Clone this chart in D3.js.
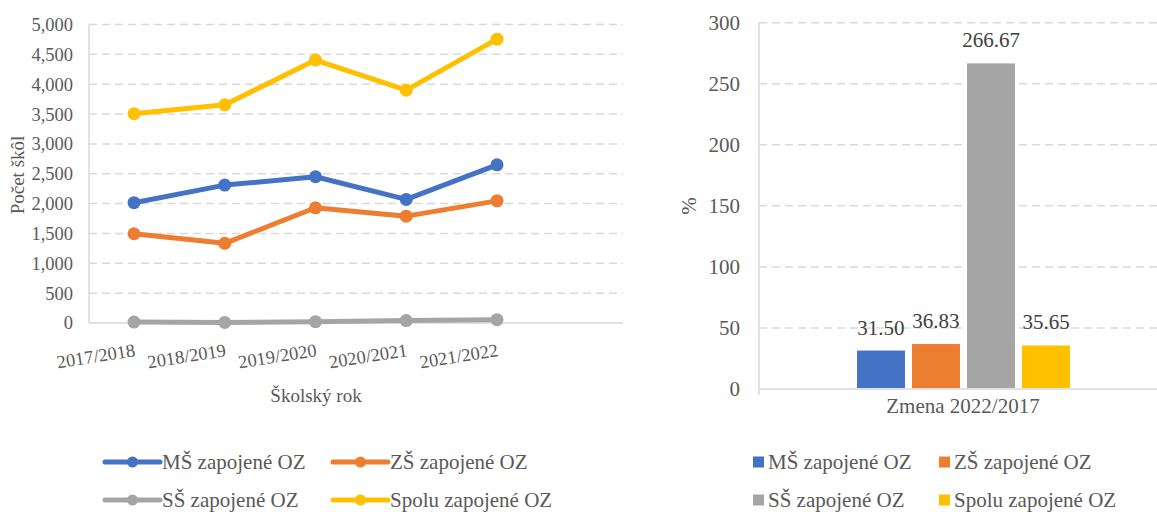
<!DOCTYPE html>
<html><head><meta charset="utf-8">
<script src="https://cdn.jsdelivr.net/npm/d3@7/dist/d3.min.js"></script>
<style>body{margin:0;background:#fff}svg{display:block}svg text{font-family:"Liberation Serif","Times New Roman",serif !important}</style>
</head><body>
<svg id="c" width="1157" height="512" font-family="Liberation Serif, serif"></svg>
<script>
const years = ["2017/2018","2018/2019","2019/2020","2020/2021","2021/2022"];
const seriesNames = ["MŠ zapojené OZ","ZŠ zapojené OZ","SŠ zapojené OZ","Spolu zapojené OZ"];
const colors = ["#4472C4","#ED7D31","#A5A5A5","#FFC000"];
const msValues = [2015,2310,2450,2070,2650];
const zsValues = [1495,1335,1930,1790,2046];
const ssValues = [15,10,22,40,55];
const spoluValues = [3505,3655,4405,3900,4755];
const yTicksLeft = [0,500,1000,1500,2000,2500,3000,3500,4000,4500,5000];
const barCategory = "Zmena 2022/2017";
const changeValues = [31.50,36.83,266.67,35.65];
const yTicksRight = [0,50,100,150,200,250,300];

const FF = "Liberation Serif";
const svg = d3.select("#c");
const grid = "#d9d9d9", txt = "#595959";
const fmt = d3.format(",");
function T(sel){ return sel.append("text").attr("font-family",FF); }

// ---------- Left line chart ----------
const L = {l:89, r:623, t:24.5, b:323};
const xL = d3.scalePoint().domain(years).range([134,497]);
const yL = d3.scaleLinear().domain([0,5000]).range([L.b,L.t]);
const gL = svg.append("g");
gL.selectAll("line.g").data(yTicksLeft.filter(d=>d>0)).join("line")
  .attr("x1",L.l).attr("x2",L.r).attr("y1",d=>yL(d)).attr("y2",d=>yL(d))
  .attr("stroke",grid).attr("stroke-width",1.5).attr("stroke-dasharray","8,5");
gL.append("line").attr("x1",L.l).attr("x2",L.l).attr("y1",L.t).attr("y2",L.b).attr("stroke",grid).attr("stroke-width",1.5);
gL.append("line").attr("x1",L.l).attr("x2",L.r).attr("y1",L.b).attr("y2",L.b).attr("stroke",grid).attr("stroke-width",1.5);
gL.selectAll("text.yt").data(yTicksLeft).join("text").attr("font-family",FF)
  .attr("x",73).attr("y",d=>yL(d)).attr("dy","0.35em").attr("text-anchor","end")
  .attr("font-size",18.5).attr("fill",txt).text(d=>fmt(d));
gL.selectAll("text.xt").data(years).join("text").attr("font-family",FF)
  .attr("transform",d=>`translate(${xL(d)+2},356) rotate(-9)`)
  .attr("text-anchor","end").attr("font-size",18.5).attr("fill",txt).text(d=>d);
T(gL).attr("transform","translate(24,175) rotate(-90)").attr("text-anchor","middle")
  .attr("font-size",19).attr("fill",txt).text("Počet škôl");
T(gL).attr("x",316).attr("y",402).attr("text-anchor","middle")
  .attr("font-size",19).attr("fill",txt).text("Školský rok");

const allSeries = [msValues,zsValues,ssValues,spoluValues];
const line = d3.line().x((d,i)=>xL(years[i])).y(d=>yL(d));
[2,1,0,3].forEach(si=>{
  const vals = allSeries[si];
  gL.append("path").datum(vals).attr("d",line).attr("fill","none")
    .attr("stroke",colors[si]).attr("stroke-width",5).attr("stroke-linejoin","round");
  gL.selectAll(null).data(vals).join("circle")
    .attr("cx",(d,i)=>xL(years[i])).attr("cy",d=>yL(d)).attr("r",6.5).attr("fill",colors[si]);
});

// left legend
const legL = [[105,462],[333,462],[105,500],[333,500]];
seriesNames.forEach((n,i)=>{
  const [x,y] = legL[i];
  svg.append("line").attr("x1",x).attr("x2",x+55).attr("y1",y).attr("y2",y)
    .attr("stroke",colors[i]).attr("stroke-width",5).attr("stroke-linecap","round");
  svg.append("circle").attr("cx",x+27.5).attr("cy",y).attr("r",5.5).attr("fill",colors[i]);
  T(svg).attr("x",x+57).attr("y",y).attr("dy","0.35em").attr("font-size",21)
    .attr("fill",txt).text(n);
});

// ---------- Right bar chart ----------
const R = {l:759, r:1168, t:22.7, b:389};
const yR = d3.scaleLinear().domain([0,300]).range([R.b,R.t]);
const x1 = d3.scaleBand().domain(seriesNames).range([857,1070]).paddingInner(0.128);
const gR = svg.append("g");
gR.selectAll("line.g").data(yTicksRight.filter(d=>d>0)).join("line")
  .attr("x1",R.l).attr("x2",R.r).attr("y1",d=>yR(d)).attr("y2",d=>yR(d))
  .attr("stroke",grid).attr("stroke-width",1.5).attr("stroke-dasharray","8,5");
gR.append("line").attr("x1",R.l).attr("x2",R.l).attr("y1",R.t).attr("y2",R.b+6).attr("stroke",grid).attr("stroke-width",1.5);
gR.append("line").attr("x1",R.l).attr("x2",R.r).attr("y1",R.b).attr("y2",R.b).attr("stroke",grid).attr("stroke-width",1.5);
gR.selectAll("text.yt").data(yTicksRight).join("text").attr("font-family",FF)
  .attr("x",740).attr("y",d=>yR(d)).attr("dy","0.35em").attr("text-anchor","end")
  .attr("font-size",21).attr("fill",txt).text(d=>d);
gR.selectAll("rect").data(changeValues).join("rect")
  .attr("x",(d,i)=>x1(seriesNames[i])).attr("width",x1.bandwidth())
  .attr("y",d=>yR(d)).attr("height",d=>R.b-1-yR(d)).attr("fill",(d,i)=>colors[i]);
gR.selectAll("text.lab").data(changeValues).join("text").attr("font-family",FF)
  .attr("x",(d,i)=>x1(seriesNames[i])+x1.bandwidth()/2).attr("y",d=>yR(d)-16)
  .attr("text-anchor","middle").attr("font-size",21).attr("fill","#404040").text(d=>d.toFixed(2));
T(gR).attr("x",963).attr("y",413).attr("text-anchor","middle")
  .attr("font-size",21).attr("fill",txt).text(barCategory);
T(gR).attr("transform","translate(696,206) rotate(-90)").attr("text-anchor","middle")
  .attr("font-size",21).attr("fill",txt).text("%");

// right legend
const legR = [[753,462],[939,462],[753,500],[939,500]];
seriesNames.forEach((n,i)=>{
  const [x,y] = legR[i];
  svg.append("rect").attr("x",x).attr("y",y-5.5).attr("width",11).attr("height",11).attr("fill",colors[i]);
  T(svg).attr("x",x+15).attr("y",y).attr("dy","0.35em").attr("font-size",21)
    .attr("fill",txt).text(n);
});
</script>
</body></html>
